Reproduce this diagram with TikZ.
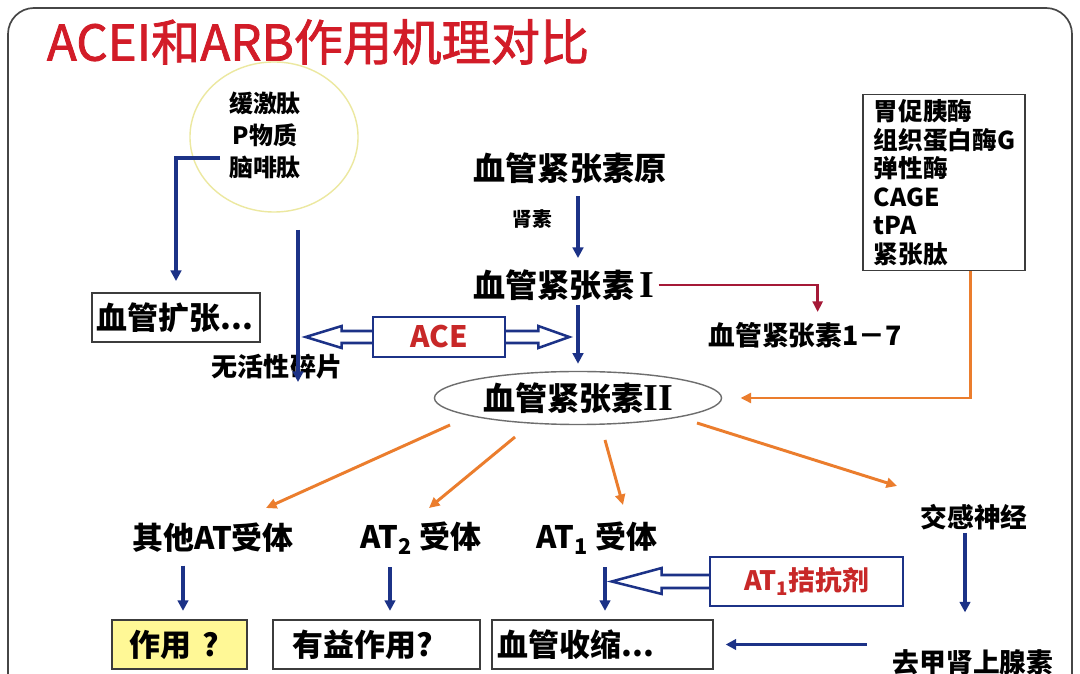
\documentclass[tikz,border=0pt]{standalone}
\usepackage{fontspec}
\setmainfont{Noto Sans CJK SC}
\newfontfamily\romf{Liberation Serif}
\newfontfamily\titlef{Noto Sans CJK SC}[FakeBold=1.6]
\usetikzlibrary{arrows.meta,shapes.geometric,calc}
\pgfdeclarelayer{background}
\pgfsetlayers{background,main}
\definecolor{navy}{RGB}{28,50,135}
\definecolor{orng}{RGB}{235,125,45}
\definecolor{dred}{RGB}{165,25,55}
\definecolor{tred}{RGB}{210,28,40}
\definecolor{acered}{RGB}{200,40,40}
\definecolor{yelfill}{RGB}{255,248,150}
\definecolor{yelline}{RGB}{236,232,160}
\definecolor{boxc}{RGB}{60,60,60}
\definecolor{framec}{RGB}{70,70,70}
\definecolor{ellc}{RGB}{110,110,110}
\newcommand\fsz[2]{\fontsize{#1pt}{#2pt}\selectfont}
\tikzset{
  txt/.style={inner sep=0pt, font=\bfseries},
  barr/.style={draw=navy, line width=2.3pt, -{Triangle[length=7.5pt,width=7.5pt]}},
  oarr/.style={draw=orng, line width=2.1pt, -{Triangle[length=7.5pt,width=7pt]}},
  rarr/.style={draw=dred, line width=1.9pt, -{Triangle[length=7.5pt,width=7pt]}},
  hollow/.style={draw=navy, line width=1.8pt, fill=white, line join=miter},
  box/.style={draw=boxc, line width=1pt, fill=white, minimum height=1.225cm, align=left, inner ysep=0pt, font=\bfseries\fsz{22}{26}},
}
\begin{document}
\begin{tikzpicture}[x=0.025cm,y=-0.025cm]
\useasboundingbox (0,0) rectangle (1080,674);
\begin{pgfonlayer}{background}
\fill[white] (0,0) rectangle (1080,674);
\end{pgfonlayer}
\clip (0,0) rectangle (1080,674);
% frame
\draw[framec, line width=1.2pt, rounded corners=0.65cm] (8,720) -- (8,8) -- (1072,8) -- (1072,720);
% title
\node[inner sep=0pt, text=tred, font=\titlef\fsz{35}{38}] (title) at (318,42) {ACEI和ARB作用机理对比};
% kinin circle
\node[draw=yelline, line width=1pt, ellipse, minimum width=4.2cm, minimum height=3.75cm] (circ) at (274,137) {};
\node[txt, align=center, font=\bfseries\fsz{17}{22.8}] (bk) at (265,135) {缓激肽\\P物质\\脑啡肽};
\coordinate (kstart) at (220,158);
% vasodilation box
\node[box, minimum width=4.2cm, text width=3.95cm, inner xsep=0.125cm] (vd) at (176,317.5) {血管扩张...};
\draw[barr, shorten >=8pt] (kstart) -| (vd.north);
% inactive fragments
\node[txt, font=\bfseries\fsz{18.5}{22}] (frag) at (277,367) {无活性碎片};
\coordinate (f1) at (298,230);
\coordinate (f2) at (298,382);
\draw[barr] (f1) -- (f2);
% main column
\coordinate (col) at (578,0);
\node[txt, font=\bfseries\fsz{22.8}{27}] (ang0) at (570,168) {血管紧张素原};
\node[txt, font=\bfseries\fsz{14}{17}] (renin) at (532,219) {肾素};
\node[txt, font=\bfseries\fsz{22.8}{27}] (ang1) at (564,285) {血管紧张素\,{\romf\bfseries\fsz{27}{27}I}};
\node[draw=ellc, line width=1pt, ellipse, inner sep=0pt, minimum width=7.175cm, minimum height=1.325cm, font=\bfseries\fsz{22.8}{27}] (a2) at (578,398) {血管紧张素{\romf\bfseries\fsz{27}{27}II}};
\draw[barr, shorten <=9pt, shorten >=8pt] (ang0.south -| col) -- (ang1.north -| col);
\draw[barr, shorten <=3pt, shorten >=5pt] (ang1.south -| col) -- (a2.north -| col);
% Ang 1-7
\node[txt, font=\bfseries\fsz{19}{23}] (a17) at (805,335) {血管紧张素1－7};
\draw[rarr, shorten <=3pt, shorten >=7pt] (ang1.east) -| ([xshift=9pt]a17.north);
% ACE
\node[draw=navy, line width=1.8pt, fill=white, minimum width=3.3cm, minimum height=1cm, inner sep=0pt, text=acered, font=\bfseries\fsz{21}{25}] (ace) at (439,337) {ACE};
\begin{pgfonlayer}{background}
\begin{scope}[shift={(ace.west)}]
\draw[hollow] (10,-6) -- (-30,-6) -- (-30,-11) -- (-66,0) -- (-30,11) -- (-30,6) -- (10,6);
\end{scope}
\begin{scope}[shift={(ace.east)}]
\draw[hollow] (-10,-6) -- (32,-6) -- (32,-11) -- (63,0) -- (32,11) -- (32,6) -- (-10,6);
\end{scope}
\end{pgfonlayer}
% enzymes box
\node[draw=boxc, line width=1pt, fill=white, minimum width=4.05cm, minimum height=4.375cm, text width=3.5cm, inner xsep=0.275cm, align=left, font=\bfseries\fsz{17.5}{20.3}] (enz) at (944,182.5) {胃促胰酶\\组织蛋白酶G\\弹性酶\\CAGE\\tPA\\紧张肽};
\draw[oarr, shorten >=13pt] ([xshift=18.5pt]enz.south) |- (a2.east);
% receptors
\node[txt, font=\bfseries\fsz{22}{26}] (r0) at (213,538) {其他AT受体};
\node[txt, font=\bfseries\fsz{22}{26}] (r2) at (421,538) {AT\textsubscript{2} 受体};
\node[txt, font=\bfseries\fsz{22}{26}] (r1) at (597,538) {AT\textsubscript{1} 受体};
\node[txt, font=\bfseries\fsz{19}{23}] (sym) at (974,517) {交感神经};
\draw[oarr] ($(a2)+(-128,27)$) -- ($(r0)+(53,-30)$);
\draw[oarr] ($(a2)+(-63,39)$) -- ($(r2)+(8,-30)$);
\draw[oarr] ($(a2)+(27,42)$) -- ($(r1)+(26,-33)$);
\draw[oarr] ($(a2)+(119,25)$) -- ($(sym)+(-77,-31)$);
% effect boxes
\node[box, fill=yelfill, minimum width=3.375cm, text width=2.475cm, inner xsep=0.45cm] (e0) at (179.5,644.5) {作用 ?};
\node[box, minimum width=5.175cm, text width=4.175cm, inner xsep=0.5cm] (e2) at (376.5,644.5) {有益作用?};
\node[box, minimum width=5.525cm, text width=5.225cm, inner xsep=0.15cm] (e1) at (602.5,644.5) {血管收缩...};
\node[txt, font=\bfseries\fsz{19}{23}] (ne) at (973,662) {去甲肾上腺素};
\coordinate (c0) at (183,0);
\coordinate (c2) at (390,0);
\coordinate (c1) at (605,0);
\coordinate (cs) at (965,0);
\draw[barr, shorten <=9pt, shorten >=6pt] (r0.south -| c0) -- (e0.north -| c0);
\draw[barr, shorten <=9pt, shorten >=6pt] (r2.south -| c2) -- (e2.north -| c2);
\draw[barr, shorten <=9pt, shorten >=6pt] (r1.south -| c1) -- (e1.north -| c1);
\draw[barr, shorten <=2pt, shorten >=26pt] (sym.south -| cs) -- (ne.north -| cs);
\draw[barr, shorten <=18.5pt, shorten >=8.5pt] (e1.east -| ne.west) -- (e1.east);
% AT1 antagonist
\node[draw=navy, line width=1.8pt, fill=white, minimum width=4.825cm, minimum height=1.225cm, inner sep=0pt, text=acered, font=\bfseries\fsz{19}{23}] (at1) at (806.5,581.5) {AT\textsubscript{1}拮抗剂};
\begin{pgfonlayer}{background}
\begin{scope}[shift={(at1.west)}]
\draw[hollow] (10,-6.5) -- (-47,-6.5) -- (-47,-13.5) -- (-97,0) -- (-47,12.5) -- (-47,6.5) -- (10,6.5);
\end{scope}
\end{pgfonlayer}
\end{tikzpicture}
\end{document}
